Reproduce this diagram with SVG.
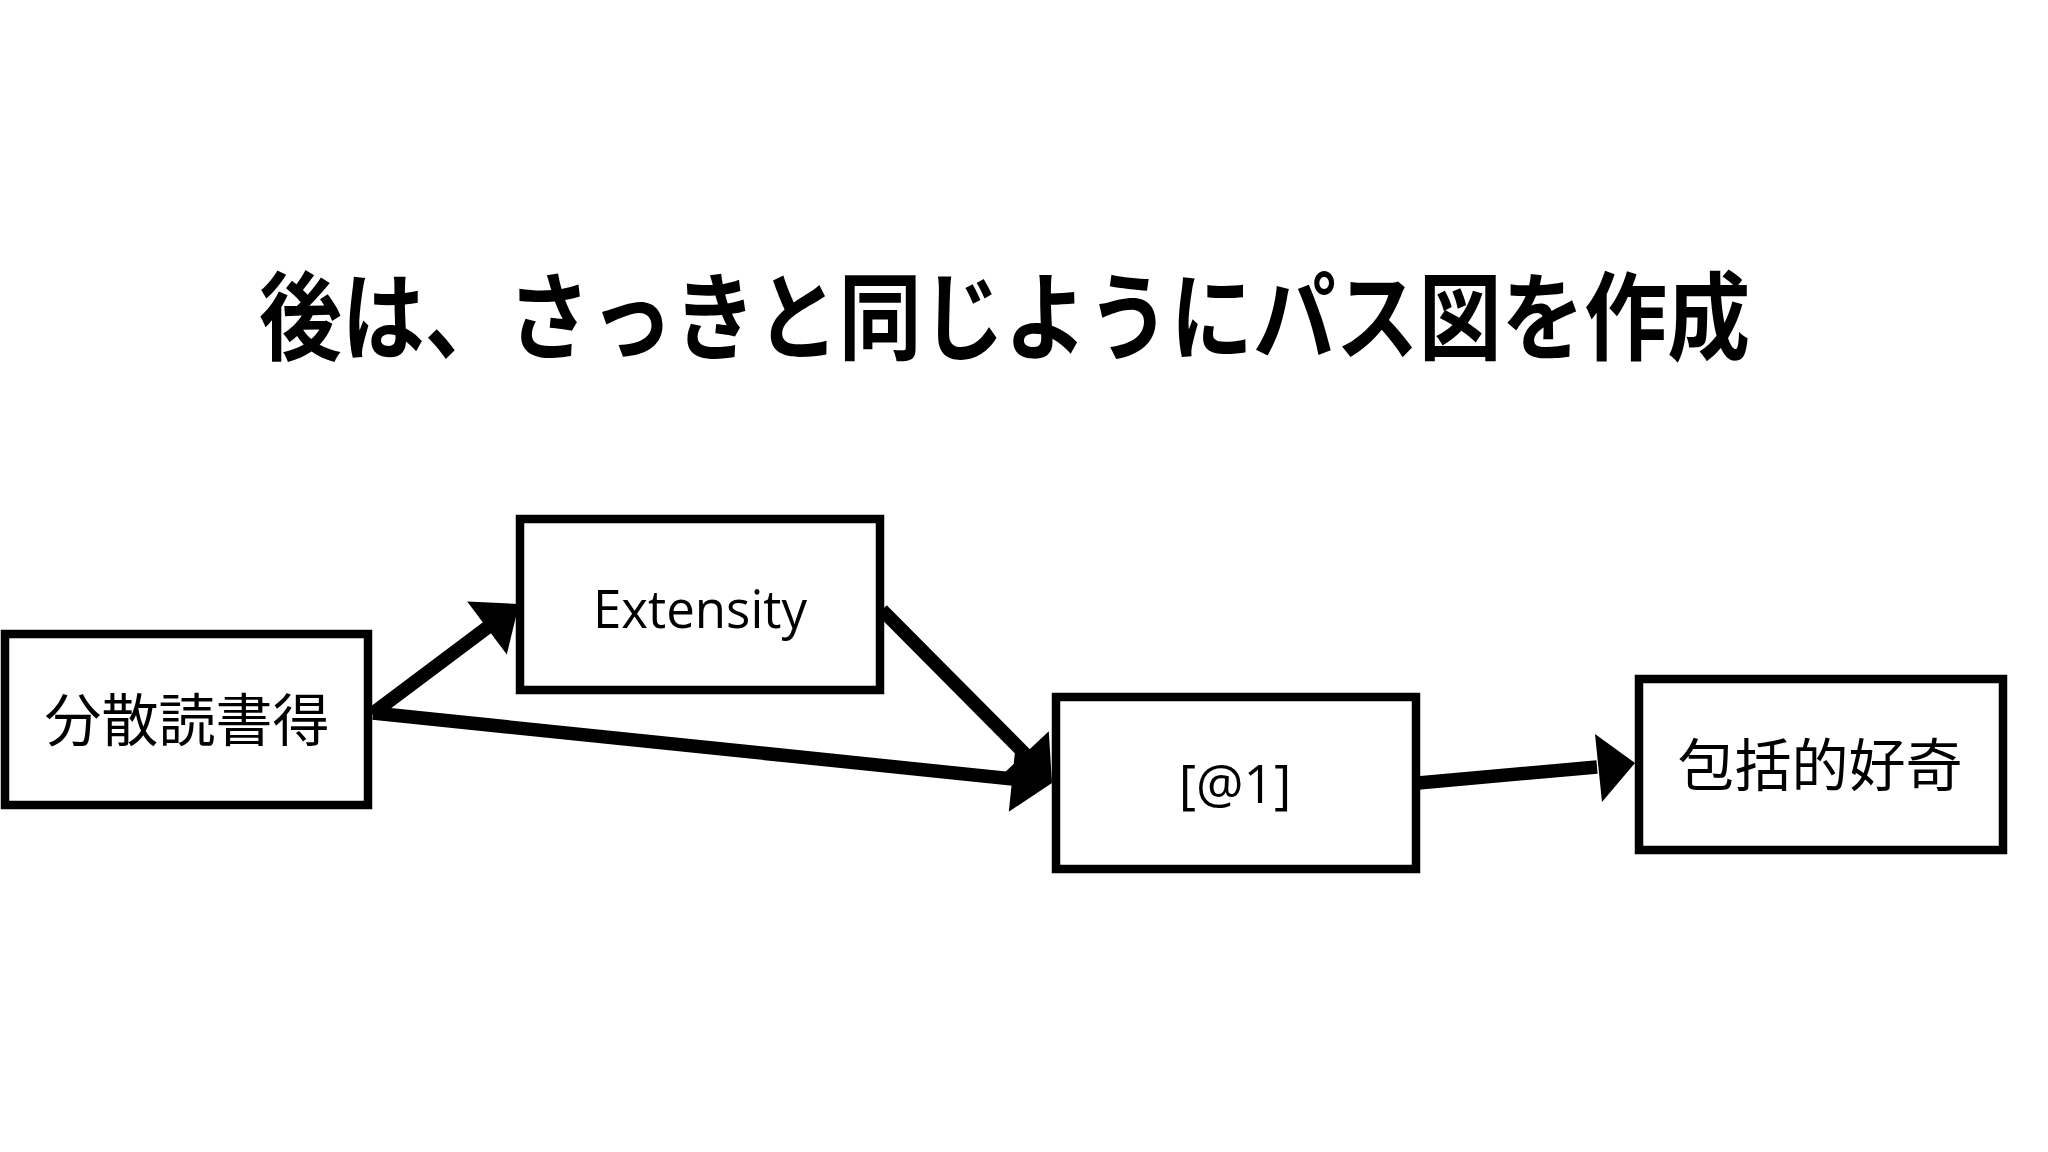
<svg xmlns="http://www.w3.org/2000/svg" width="2048" height="1152" viewBox="0 0 2048 1152">
  <style>
    .box { fill: #ffffff; stroke: #000000; stroke-width: 8.5; }
    .lbl-jp { font-family: "Noto Sans CJK JP", "Noto Sans", sans-serif; font-size: 57px; fill: #000; text-anchor: middle; }
    .lbl-en { font-family: "Open Sans", "Liberation Sans", sans-serif; font-size: 53px; fill: #000; text-anchor: middle; }
    .edge { stroke: #000000; stroke-width: 13.5; fill: none; }
    .head { fill: #000000; stroke: none; }
    .title { font-family: "Noto Sans CJK JP", "Noto Sans", sans-serif; font-size: 96px; font-weight: 700; fill: #000; }
  </style>
  <rect x="0" y="0" width="2048" height="1152" fill="#ffffff"/>

  <text class="title" x="259" y="352" textLength="1491" lengthAdjust="spacingAndGlyphs">後は、さっきと同じようにパス図を作成</text>

  <g id="connectors">
    <g id="e1">
      <line class="edge" x1="372" y1="714" x2="488" y2="627"/>
      <polygon class="head" points="519,604 506.8,654.4 467.2,601.6"/>
    </g>
    <g id="e2">
      <line class="edge" x1="373" y1="713" x2="1013" y2="779"/>
      <polygon class="head" points="1052,783 1008.8,811.7 1015.6,746.1"/>
    </g>
    <g id="e3">
      <line class="edge" x1="882" y1="610" x2="1026" y2="755"/>
      <polygon class="head" points="1052,783 1048.8,731.3 1000.6,776.3"/>
    </g>
    <g id="e4">
      <line class="edge" x1="1418" y1="783" x2="1597" y2="767"/>
      <polygon class="head" points="1635,763 1602,802 1595,734"/>
    </g>
  </g>

  <g id="node-bunsan">
    <rect class="box" x="5" y="634" width="363" height="171"/>
    <text class="lbl-jp" x="187" y="741">分散読書得</text>
  </g>
  <g id="node-extensity">
    <rect class="box" x="520" y="519" width="360" height="171"/>
    <text class="lbl-en" x="700" y="628" textLength="214" lengthAdjust="spacingAndGlyphs">Extensity</text>
  </g>
  <g id="node-at1">
    <rect class="box" x="1056" y="697" width="360" height="172"/>
    <text class="lbl-en" x="1235" y="803">[@1]</text>
  </g>
  <g id="node-houkatsu">
    <rect class="box" x="1639" y="679" width="364" height="171"/>
    <text class="lbl-jp" x="1820" y="786">包括的好奇</text>
  </g>
</svg>
